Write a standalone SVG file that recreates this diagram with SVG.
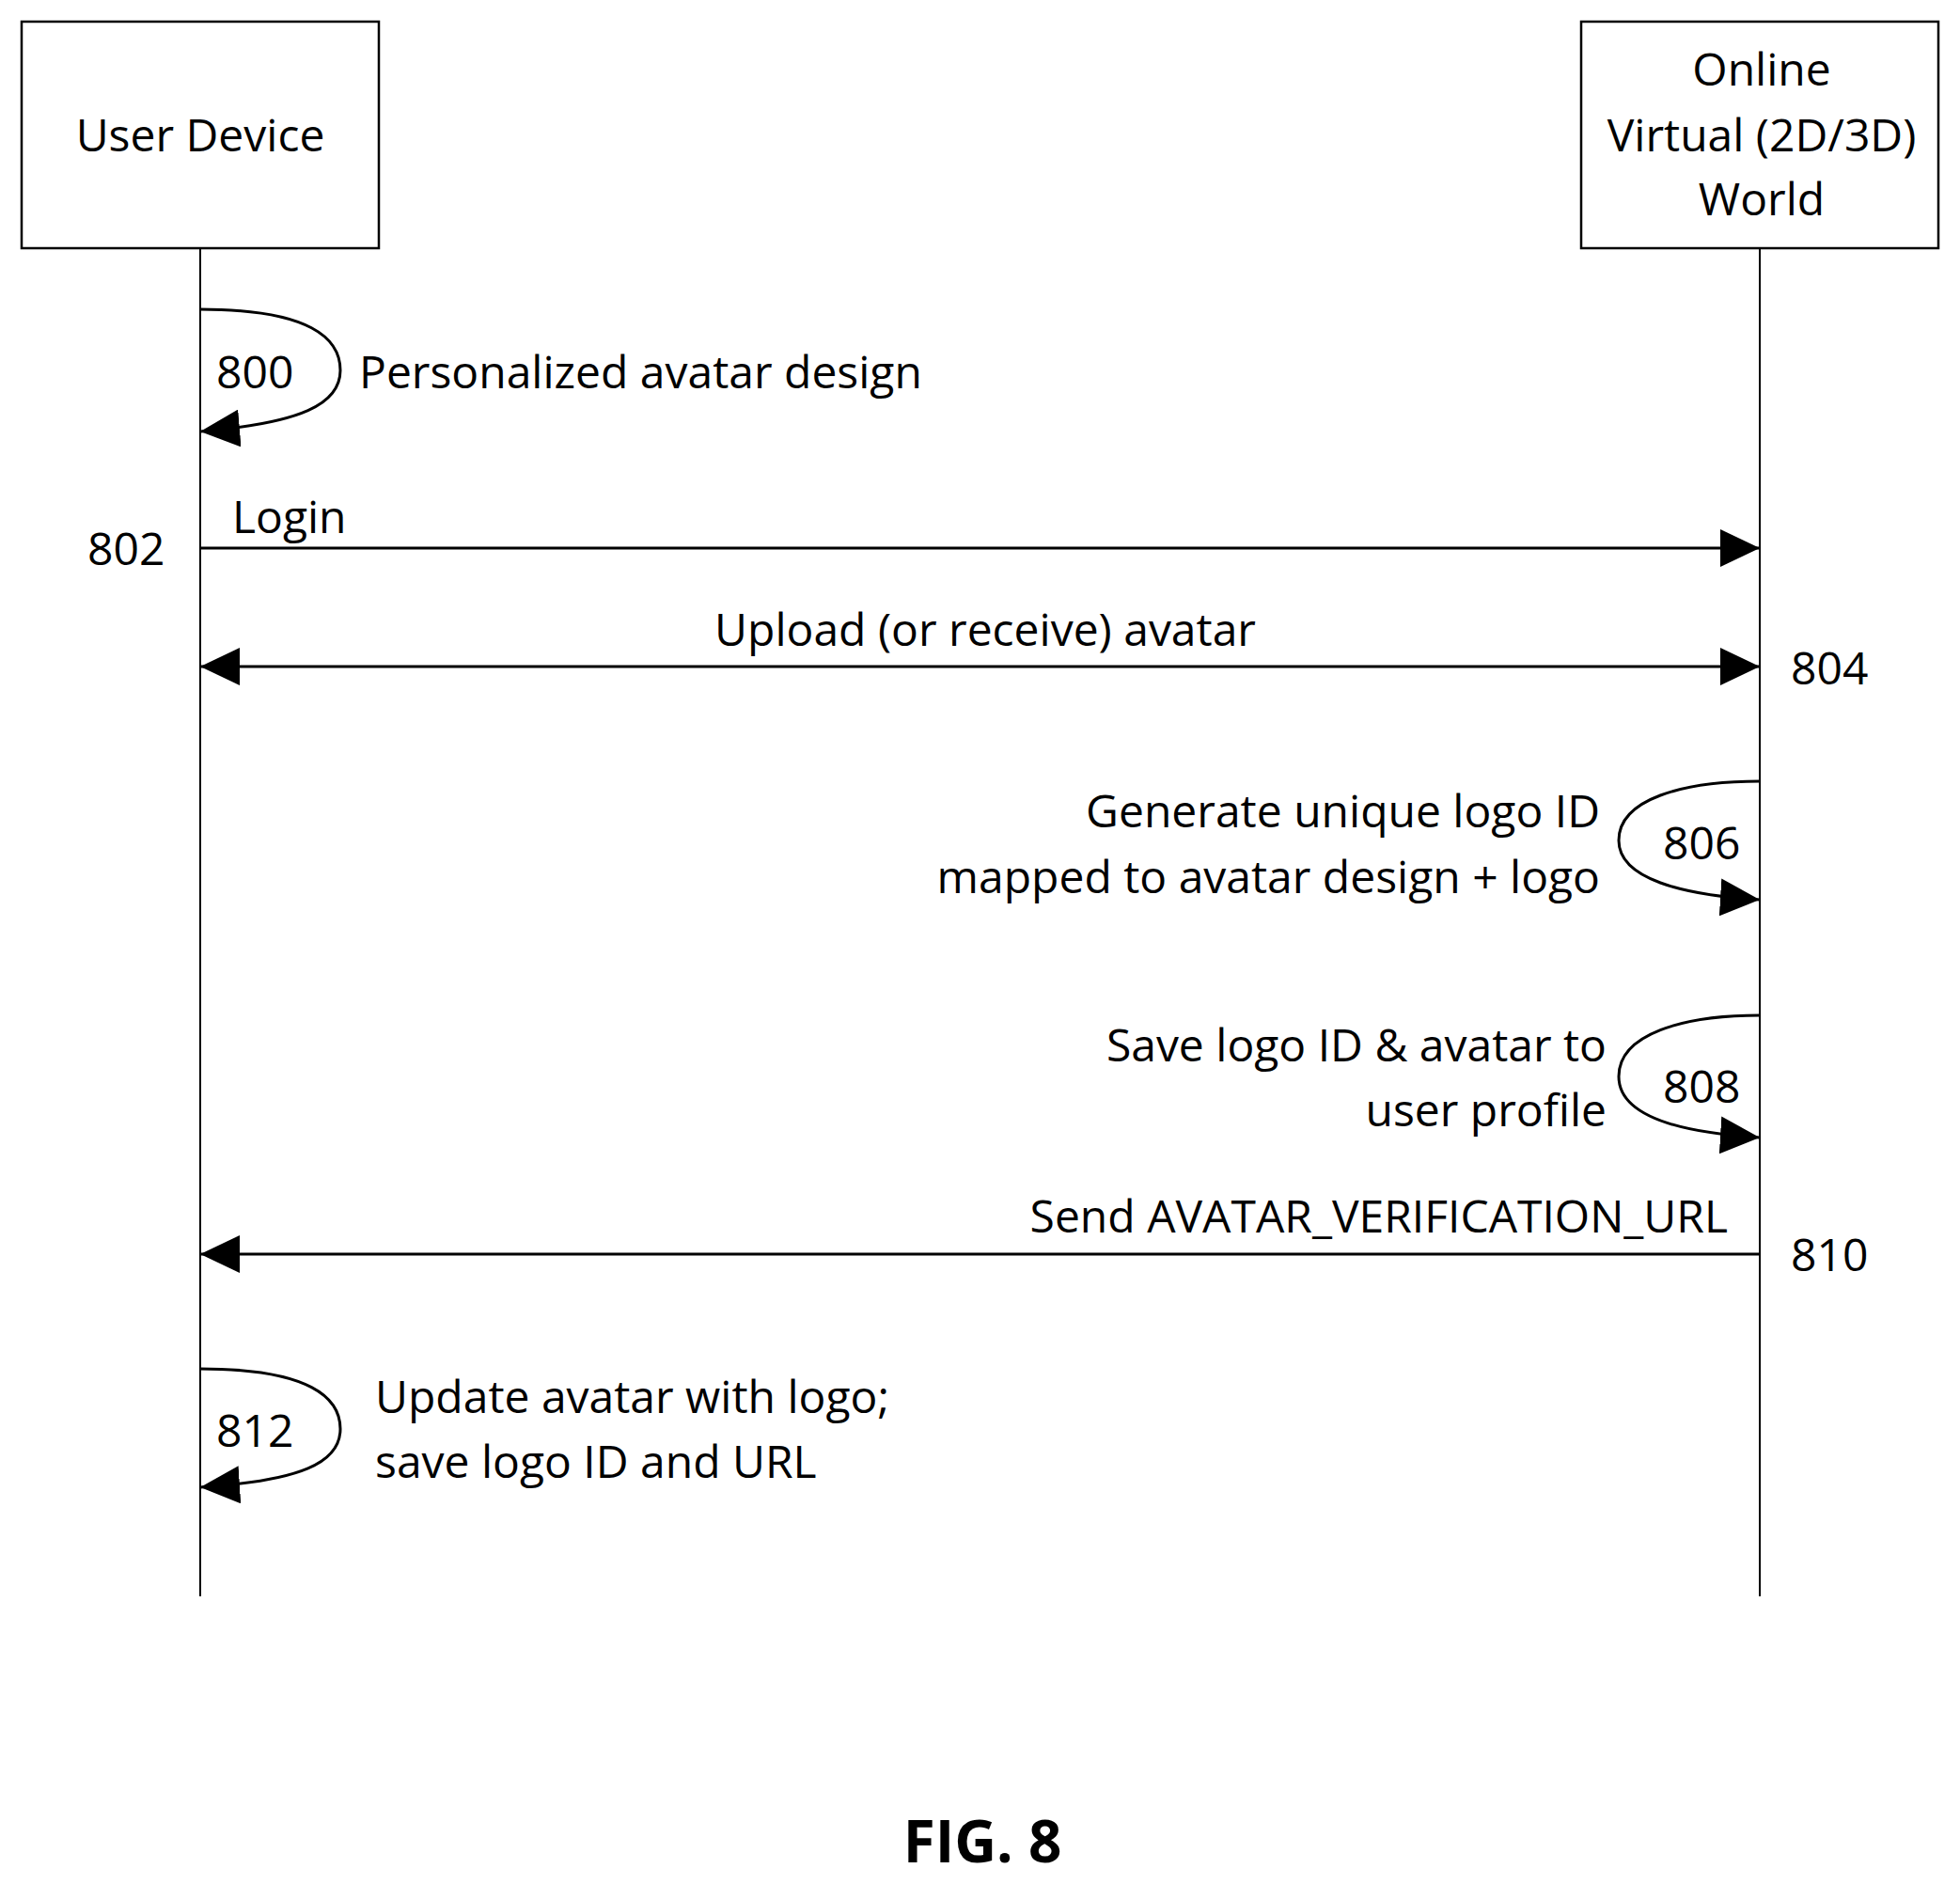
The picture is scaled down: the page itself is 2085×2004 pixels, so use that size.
<svg xmlns="http://www.w3.org/2000/svg" width="2085" height="2004" viewBox="0 0 2085 2004">
<style>
text{font-family:"Open Sans","Liberation Sans",sans-serif;font-size:48px;fill:#000}
.box{fill:#fff;stroke:#000;stroke-width:2.5}
.ln{fill:none;stroke:#000;stroke-width:3}
.life{fill:none;stroke:#000;stroke-width:2}
.r{text-anchor:end}.m{text-anchor:middle}
</style>
<defs>
<marker id="a" viewBox="0 0 42 40" refX="42" refY="20" markerWidth="42" markerHeight="40" markerUnits="userSpaceOnUse" orient="auto-start-reverse"><path d="M0,0 L42,20 L0,40 Z"/></marker>
</defs>
<g id="user-device"><rect class="box" x="23" y="23" width="380" height="241"/><text class="m" x="213" y="161">User Device</text></g>
<g id="online-world"><rect class="box" x="1682" y="23" width="380" height="241"/>
<text class="m" x="1874" y="91">Online</text><text class="m" x="1874" y="161">Virtual (2D/3D)</text><text class="m" x="1874" y="229">World</text></g>
<g id="lifelines"><line class="life" x1="213" y1="264" x2="213" y2="1698"/><line class="life" x1="1872" y1="264" x2="1872" y2="1698"/></g>
<g id="connectors">
<path class="ln" marker-end="url(#a)" d="M213,329 C330,329 362,360 362,394 C362,430 320,450 213,459"/>
<line class="ln" marker-end="url(#a)" x1="213" y1="583" x2="1872" y2="583"/>
<line class="ln" marker-start="url(#a)" marker-end="url(#a)" x1="213" y1="709" x2="1872" y2="709"/>
<path class="ln" marker-end="url(#a)" d="M1872,831 C1790,831 1722,850 1722,894 C1722,935 1790,952 1872,957"/>
<path class="ln" marker-end="url(#a)" d="M1872,1080 C1790,1080 1722,1100 1722,1145 C1722,1188 1790,1205 1872,1210"/>
<line class="ln" marker-end="url(#a)" x1="1872" y1="1334" x2="213" y2="1334"/>
<path class="ln" marker-end="url(#a)" d="M213,1456 C330,1456 362,1487 362,1520 C362,1556 320,1575 213,1582"/>
</g>
<g id="labels">
<text x="230" y="413">800</text><text x="382" y="413">Personalized avatar design</text>
<text x="247" y="567">Login</text><text x="93" y="601">802</text>
<text class="m" x="1048" y="687">Upload (or receive) avatar</text><text x="1905" y="728">804</text>
<text class="r" x="1702" y="880">Generate unique logo ID</text><text class="r" x="1702" y="950">mapped to avatar design + logo</text><text x="1769" y="914">806</text>
<text class="r" x="1709" y="1129">Save logo ID &amp; avatar to</text><text class="r" x="1709" y="1198">user profile</text><text x="1769" y="1173">808</text>
<text class="r" x="1838" y="1311">Send AVATAR_VERIFICATION_URL</text><text x="1905" y="1352">810</text>
<text x="230" y="1539">812</text><text x="399" y="1503">Update avatar with logo;</text><text x="399" y="1572">save logo ID and URL</text>
<text class="m" x="1045" y="1981" style="font-weight:bold;font-size:62px">FIG. 8</text>
</g>
</svg>
